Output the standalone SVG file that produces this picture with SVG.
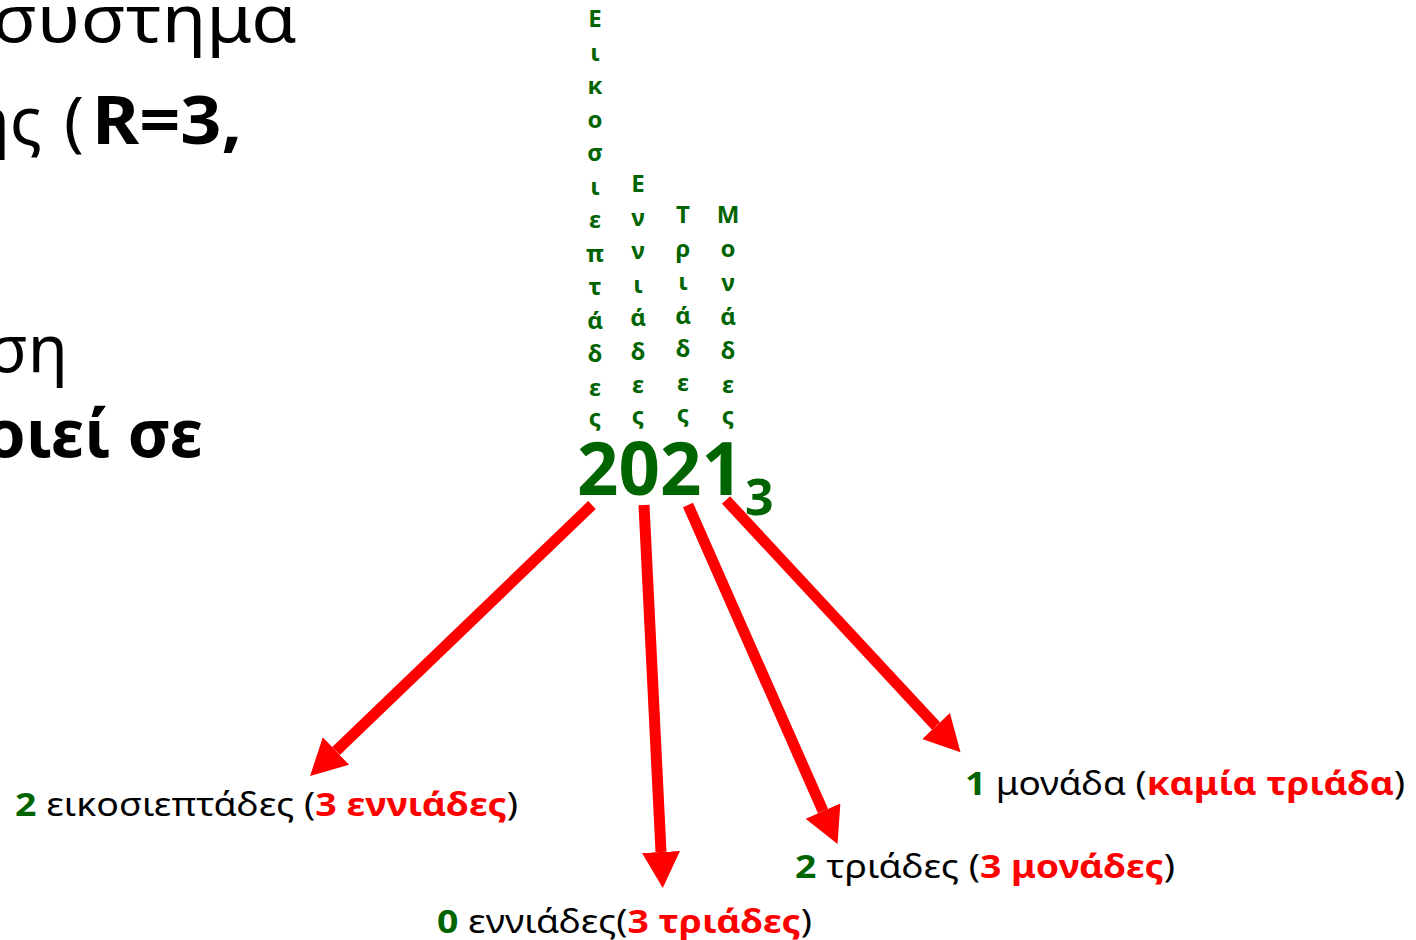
<svg xmlns="http://www.w3.org/2000/svg" width="1416" height="940" viewBox="0 0 1416 940">
  <style>
    text { font-family: "Noto Sans", "Open Sans", "DejaVu Sans", sans-serif; }
    .big { font-size: 66px; fill: #000; }
    .b { font-weight: bold; }
    .col { font-size: 24px; font-weight: bold; fill: #006400; text-anchor: middle; }
    .num { font-weight: bold; fill: #006400; }
    .lbl { font-size: 33px; fill: #000; }
    .g { fill: #006400; font-weight: bold; }
    .r { fill: #ff0000; font-weight: bold; }
    .arrow { stroke: #ff0000; stroke-width: 11; fill: none; marker-end: url(#head); }
  </style>
  <defs>
    <!-- arrowhead drawn from its base (x=0) to its tip; line ends at the base -->
    <marker id="head" markerUnits="userSpaceOnUse" markerWidth="40" markerHeight="40" refX="0" refY="19" orient="auto">
      <polygon points="0,0 36,19 0,38" fill="#ff0000"/>
    </marker>
  </defs>
  <rect width="1416" height="940" fill="#ffffff"/>

  <!-- heading text running off the left edge -->
  <g id="heading">
    <text class="big" x="-8" y="42" textLength="305" lengthAdjust="spacingAndGlyphs">συστημα</text>
    <text class="big" x="42" y="144" text-anchor="end">ης</text>
    <text class="big" x="64" y="144">(</text>
    <text class="big b" x="92" y="144" textLength="150" lengthAdjust="spacingAndGlyphs">R=3,</text>
    <text class="big" x="68" y="372" text-anchor="end">ση</text>
    <text class="big b" x="203" y="457" text-anchor="end">οιεί σε</text>
  </g>

  <!-- place-value names, one letter per line -->
  <g id="col-27">
    <text class="col"><tspan x="595" y="27">Ε</tspan><tspan x="595" y="60.5">ι</tspan><tspan x="595" y="94">κ</tspan><tspan x="595" y="127.5">ο</tspan><tspan x="595" y="161">σ</tspan><tspan x="595" y="194.5">ι</tspan><tspan x="595" y="228">ε</tspan><tspan x="595" y="261.5">π</tspan><tspan x="595" y="295">τ</tspan><tspan x="595" y="328.5">ά</tspan><tspan x="595" y="362">δ</tspan><tspan x="595" y="395.5">ε</tspan><tspan x="595" y="426">ς</tspan></text>
  </g>
  <g id="col-9">
    <text class="col"><tspan x="638" y="192">Ε</tspan><tspan x="638" y="225.5">ν</tspan><tspan x="638" y="259">ν</tspan><tspan x="638" y="292.5">ι</tspan><tspan x="638" y="326">ά</tspan><tspan x="638" y="359.5">δ</tspan><tspan x="638" y="393">ε</tspan><tspan x="638" y="424">ς</tspan></text>
  </g>
  <g id="col-3">
    <text class="col"><tspan x="683" y="223">Τ</tspan><tspan x="683" y="256.5">ρ</tspan><tspan x="683" y="290">ι</tspan><tspan x="683" y="323.5">ά</tspan><tspan x="683" y="357">δ</tspan><tspan x="683" y="390.5">ε</tspan><tspan x="683" y="422">ς</tspan></text>
  </g>
  <g id="col-1">
    <text class="col"><tspan x="728" y="223">Μ</tspan><tspan x="728" y="257">ο</tspan><tspan x="728" y="291">ν</tspan><tspan x="728" y="325">ά</tspan><tspan x="728" y="359">δ</tspan><tspan x="728" y="393">ε</tspan><tspan x="728" y="424">ς</tspan></text>
  </g>

  <!-- the number in base 3 -->
  <g id="number">
    <text class="num" x="577" y="495" font-size="74" textLength="166" lengthAdjust="spacingAndGlyphs">2021</text>
    <text class="num" x="745" y="515" font-size="50">3</text>
  </g>

  <!-- connectors -->
  <g id="connectors">
    <line class="arrow" x1="592" y1="505" x2="336" y2="751"/>
    <line class="arrow" x1="644" y1="505" x2="661" y2="852"/>
    <line class="arrow" x1="688" y1="505" x2="823" y2="811"/>
    <line class="arrow" x1="726" y1="500" x2="936" y2="726"/>
  </g>

  <!-- digit explanations -->
  <g id="label-27">
    <text class="lbl" x="15" y="816" textLength="503" lengthAdjust="spacingAndGlyphs"><tspan class="g">2</tspan> εικοσιεπτάδες (<tspan class="r">3 εννιάδες</tspan>)</text>
  </g>
  <g id="label-9">
    <text class="lbl" x="437" y="933" textLength="375" lengthAdjust="spacingAndGlyphs"><tspan class="g">0</tspan> εννιάδες(<tspan class="r">3 τριάδες</tspan>)</text>
  </g>
  <g id="label-3">
    <text class="lbl" x="795" y="878" textLength="380" lengthAdjust="spacingAndGlyphs"><tspan class="g">2</tspan> τριάδες (<tspan class="r">3 μονάδες</tspan>)</text>
  </g>
  <g id="label-1">
    <text class="lbl" x="965" y="795" textLength="440" lengthAdjust="spacingAndGlyphs"><tspan class="g">1</tspan> μονάδα (<tspan class="r">καμία τριάδα</tspan>)</text>
  </g>
</svg>
